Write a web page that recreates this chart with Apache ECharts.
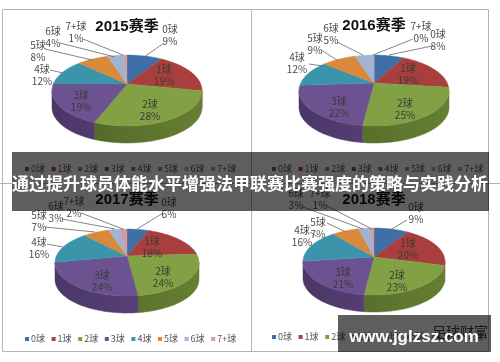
<!DOCTYPE html>
<html>
<head>
<meta charset="utf-8">
<style>
html, body { margin: 0; padding: 0; background: #fff; }
#chart, #cover { position: absolute; left: 0; top: 0; width: 500px; height: 362px; }
#chart { filter: blur(0.55px); }
</style>
<script src="https://cdn.jsdelivr.net/npm/echarts@6/dist/echarts.min.js"></script>
</head>
<body>
<div id="chart"></div>
<div id="cover"></div>
<script>
const categories = ["0球", "1球", "2球", "3球", "4球", "5球", "6球", "7+球"]
const seasons = ["2015赛季", "2016赛季", "2017赛季", "2018赛季"]
const values2015 = [9, 19, 28, 19, 12, 8, 4, 1]
const values2016 = [8, 19, 25, 22, 12, 9, 5, 0]
const values2017 = [6, 18, 24, 24, 16, 7, 3, 2]
const values2018 = [9, 20, 23, 21, 16, 7, 3, 1]
const headline = "通过提升球员体能水平增强法甲联赛比赛强度的策略与实践分析"
const siteName = "www.jglzsz.com"
const siteMark = "足球财富"

const colors = ["#3f6fa6", "#a83f3c", "#82a044", "#6c5290", "#3c94ab", "#d9883c", "#9fb3d6", "#d29c9a"]
const wallColors = ["#2c4f78", "#7a2e2c", "#4f6227", "#4a3766", "#2a6a7c", "#9c6228", "#72819c", "#97706e"]
const font = '"Liberation Sans Narrow", "Noto Sans CJK SC", sans-serif'

// 每个饼图的位置：cx/cy 为圆心，rx 宽，top/bottom 为上下半径，depth 厚度
const panels = [
  { cx: 127, cy: 84, rx: 75, top: 29, bottom: 42, depth: 17, titleX: 127, titleY: 27, legendX: 25, legendY: 169, values: values2015 },
  { cx: 374, cy: 83, rx: 75, top: 28, bottom: 43, depth: 17, titleX: 374, titleY: 26, legendX: 272, legendY: 169, values: values2016 },
  { cx: 127, cy: 256, rx: 72, top: 27, bottom: 40, depth: 17, titleX: 127, titleY: 200, legendX: 25, legendY: 339, values: values2017 },
  { cx: 374, cy: 257, rx: 71, top: 29, bottom: 38, depth: 17, titleX: 374, titleY: 200, legendX: 272, legendY: 337, values: values2018 }
]

// 饼内标签位置 [序号, 文字x, 文字y]
const innerLabels = [
  [[1, 164, 75], [2, 150, 110], [3, 81, 101]],
  [[1, 408, 74], [2, 405, 109], [3, 339, 107]],
  [[1, 152, 247], [2, 163, 277], [3, 102, 281]],
  [[1, 408, 249], [2, 397, 281], [3, 343, 278]]
]

// 外侧标签位置 [序号, 文字x, 文字y, 引线起点x, 引线起点y, 引线终点x, 引线终点y]
const outerLabels = [
  [[0, 170, 35, 164, 43, 144, 57], [4, 42, 75, 50, 70, 63, 73], [5, 38, 51, 45, 49, 92, 60], [6, 53, 37, 60, 43, 115, 57], [7, 76, 32, 83, 39, 123, 55]],
  [[0, 438, 40, 432, 46, 389, 55], [4, 297, 63, 309, 64, 323, 66], [5, 315, 44, 321, 50, 337, 60], [6, 331, 34, 337, 42, 363, 55], [7, 421, 32, 413, 39, 373, 55]],
  [[0, 169, 208, 163, 213, 137, 229], [4, 39, 248, 47, 244, 63, 247], [5, 39, 221, 45, 227, 95, 232], [6, 56, 212, 62, 219, 115, 229], [7, 74, 207, 81, 213, 123, 229]],
  [[0, 416, 213, 407, 220, 390, 230], [4, 302, 236, 310, 232, 318, 237], [5, 318, 228, 327, 223, 346, 232], [6, 296, 199, 303, 207, 363, 229], [7, 320, 199, 327, 206, 372, 229]]
]

function rimPoint(p, angle) {
  const u = Math.sin(angle)
  const v = -Math.cos(angle)
  const s = (p.bottom - p.top) / (p.bottom + p.top)
  const k = p.bottom * (1 - s)
  const r = p.rx * Math.sqrt(1 - s * s)
  return [p.cx + (r * u) / (1 - s * v), p.cy + (k * v) / (1 - s * v)]
}

function sliceAngles(p, i) {
  let start = 0
  for (let j = 0; j < i; j++) start += p.values[j]
  return [(start / 100) * Math.PI * 2, ((start + p.values[i]) / 100) * Math.PI * 2]
}

function arcPoints(p, a1, a2) {
  const pts = []
  const n = Math.max(2, Math.ceil((a2 - a1) / 0.03))
  for (let i = 0; i <= n; i++) pts.push(rimPoint(p, a1 + ((a2 - a1) * i) / n))
  return pts
}

function renderWall(p) {
  return function (params, api) {
    const i = api.value(0)
    const [a1, a2] = sliceAngles(p, i)
    const s = (p.bottom - p.top) / (p.bottom + p.top)
    const lo = Math.max(a1, Math.acos(-s))
    const hi = Math.min(a2, Math.PI * 2 - Math.acos(-s))
    if (hi <= lo) return { type: "group", children: [] }
    const rim = arcPoints(p, lo, hi)
    const low = rim.map((q) => [q[0], q[1] + p.depth]).reverse()
    const fill = new echarts.graphic.LinearGradient(p.cx + p.rx, 0, p.cx - p.rx, 0, [
      { offset: 0, color: echarts.color.lift(wallColors[i], -0.3) },
      { offset: 1, color: wallColors[i] }
    ], true)
    return {
      type: "polygon",
      shape: { points: rim.concat(low) },
      style: { fill: fill, stroke: fill, lineWidth: 0.5 }
    }
  }
}

function renderTop(p) {
  return function (params, api) {
    const i = api.value(0)
    const [a1, a2] = sliceAngles(p, i)
    const pts = [[p.cx, p.cy]].concat(arcPoints(p, a1, a2))
    return {
      type: "polygon",
      shape: { points: pts },
      style: { fill: colors[i], stroke: colors[i], lineWidth: 0.4 }
    }
  }
}

function labelText(p, i) {
  return categories[i] + "\n" + p.values[i] + "%"
}

function labelEl(p, i, x, y, color) {
  return {
    type: "text",
    style: {
      x: x,
      y: y,
      text: labelText(p, i),
      fill: color,
      font: "10px " + font,
      lineHeight: 11.5,
      align: "center",
      verticalAlign: "middle"
    }
  }
}

function renderInner(p) {
  return function (params, api) {
    return labelEl(p, api.value(0), api.value(1), api.value(2), "#3a3a3a")
  }
}

function renderOuter(p) {
  return function (params, api) {
    return {
      type: "group",
      children: [
        {
          type: "polyline",
          shape: { points: [[api.value(3), api.value(4)], [api.value(5), api.value(6)]] },
          style: { stroke: "#666", lineWidth: 0.8, fill: null }
        },
        labelEl(p, api.value(0), api.value(1), api.value(2), "#4a4a4a")
      ]
    }
  }
}

const series = []
panels.forEach((p, n) => {
  const ids = categories.map((c, i) => [i])
  series.push({ type: "custom", coordinateSystem: "none", silent: true, z: 2, renderItem: renderWall(p), data: ids })
  series.push({ type: "custom", coordinateSystem: "none", silent: true, z: 3, renderItem: renderTop(p), data: ids })
  series.push({ type: "custom", coordinateSystem: "none", silent: true, z: 4, renderItem: renderInner(p), data: innerLabels[n] })
  series.push({ type: "custom", coordinateSystem: "none", silent: true, z: 4, renderItem: renderOuter(p), data: outerLabels[n] })
})

const frameLine = { stroke: "#b4b4b4", lineWidth: 1 }
const graphics = [
  { type: "rect", z: 1, shape: { x: 2.5, y: 9.5, width: 486, height: 342 }, style: { fill: null, stroke: "#b4b4b4", lineWidth: 1 } },
  { type: "line", z: 1, shape: { x1: 251.5, y1: 9, x2: 251.5, y2: 352 }, style: frameLine },
  { type: "line", z: 1, shape: { x1: 0, y1: 183.5, x2: 500, y2: 183.5 }, style: frameLine }
]

panels.forEach((p, n) => {
  graphics.push({
    type: "text", z: 5,
    style: { x: p.titleX, y: p.titleY, text: seasons[n], fill: "#111", font: 'bold 15px "Liberation Sans", "Noto Sans CJK SC", sans-serif', align: "center", verticalAlign: "middle" }
  })
  categories.forEach((c, i) => {
    const x = p.legendX + i * 26.6
    graphics.push({ type: "rect", z: 5, shape: { x: x, y: p.legendY - 2, width: 4, height: 4 }, style: { fill: colors[i] } })
    graphics.push({ type: "text", z: 5, style: { x: x + 6, y: p.legendY, text: c, fill: "#555", font: "9px " + font, verticalAlign: "middle" } })
  })
})
graphics.push({ type: "text", z: 5, style: { x: 460, y: 332, text: siteMark, fill: "#444", font: "14px " + font, align: "center", verticalAlign: "middle" } })

const chart = echarts.init(document.getElementById("chart"), null, { renderer: "canvas" })
chart.setOption({
  animation: false,
  backgroundColor: "#fff",
  series: series,
  graphic: graphics
})

// 上层遮罩和文字，不做模糊
const cover = echarts.init(document.getElementById("cover"), null, { renderer: "canvas" })
cover.setOption({
  animation: false,
  graphic: [
    { type: "rect", shape: { x: 12, y: 152, width: 477, height: 59 }, style: { fill: "rgba(0,0,0,0.63)" } },
    { type: "rect", shape: { x: 338, y: 315, width: 153, height: 37 }, style: { fill: "rgba(0,0,0,0.63)" } },
    { type: "text", z: 2, style: { x: 250, y: 184, text: headline, fill: "#fff", font: 'bold 17px "Noto Sans CJK SC", sans-serif', align: "center", verticalAlign: "middle" } },
    { type: "text", z: 2, style: { x: 414, y: 337, text: siteName, fill: "#fff", font: 'bold 17px "Liberation Sans", sans-serif', align: "center", verticalAlign: "middle" } }
  ]
})
</script>
</body>
</html>
